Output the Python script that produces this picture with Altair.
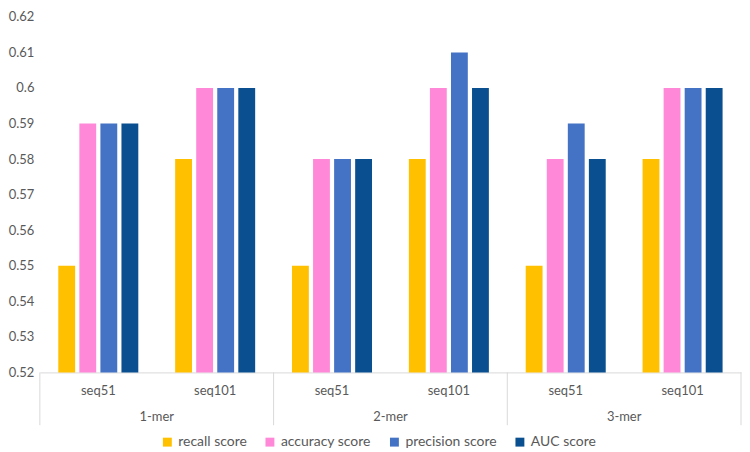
import altair as alt
import pandas as pd

kmers = ["1-mer", "2-mer", "3-mer"]
seqs = ["seq51", "seq101"]
series = ["recall score", "accuracy score", "precision score", "AUC score"]
colors = ["#FFC000", "#FF89D8", "#4472C4", "#0A4F8F"]

# values per series, order: 1-mer seq51, 1-mer seq101, 2-mer seq51, 2-mer seq101, 3-mer seq51, 3-mer seq101
recall = [0.55, 0.58, 0.55, 0.58, 0.55, 0.58]
accuracy = [0.59, 0.60, 0.58, 0.60, 0.58, 0.60]
precision = [0.59, 0.60, 0.58, 0.61, 0.59, 0.60]
auc = [0.59, 0.60, 0.58, 0.60, 0.58, 0.60]

y_ticks = [0.52, 0.53, 0.54, 0.55, 0.56, 0.57, 0.58, 0.59, 0.60, 0.61, 0.62]

cats = [f"{k}|{s}" for k in kmers for s in seqs]
rows = []
for name, vals in zip(series, [recall, accuracy, precision, auc]):
    for c, v in zip(cats, vals):
        rows.append({"cat": c, "series": name, "value": v})
df = pd.DataFrame(rows)

sep_start = pd.DataFrame({"cat": [f"{k}|{seqs[0]}" for k in kmers]})
sep_end = pd.DataFrame({"cat": [f"{kmers[-1]}|{seqs[-1]}"]})
kdf = pd.DataFrame({"cat": [f"{k}|{seqs[0]}" for k in kmers], "kmer": kmers})

W, H = 704, 357
FONT = "Lato"
TXT = "#595959"
LINE = "#D9D9D9"

xscale = alt.Scale(domain=cats, paddingInner=0, paddingOuter=0)

bars = alt.Chart(df).mark_bar(clip=True).encode(
    x=alt.X("cat:N", scale=xscale, title=None,
            axis=alt.Axis(labelExpr="split(datum.label, '|')[1]", labelAngle=0,
                          ticks=False, domainColor=LINE, labelPadding=12,
                          labelColor=TXT, labelFontSize=13, labelFont=FONT)),
    xOffset=alt.XOffset("series:N", sort=series,
                        scale=alt.Scale(paddingInner=0.2, paddingOuter=0.875)),
    y=alt.Y("value:Q", scale=alt.Scale(domain=[0.52, 0.62], zero=False, nice=False),
            title=None,
            axis=alt.Axis(values=y_ticks, format=".2~f", grid=False, domain=False,
                          ticks=False, labelPadding=6, labelColor=TXT,
                          labelFontSize=13, labelFont=FONT)),
    color=alt.Color("series:N", sort=series,
                    scale=alt.Scale(domain=series, range=colors),
                    legend=alt.Legend(orient="none", legendX=121, legendY=H + 63,
                                      direction="horizontal", title=None,
                                      symbolType="square", symbolSize=80,
                                      labelFontSize=14, labelFont=FONT, labelColor=TXT,
                                      columnPadding=16, labelOffset=4,
                                      symbolStrokeWidth=0)),
)

rule1 = alt.Chart(sep_start).mark_rule(color=LINE, strokeWidth=1).encode(
    x=alt.X("cat:N", scale=xscale, bandPosition=0),
    y=alt.value(H), y2=alt.value(H + 53),
)
rule2 = alt.Chart(sep_end).mark_rule(color=LINE, strokeWidth=1).encode(
    x=alt.X("cat:N", scale=xscale, bandPosition=1),
    y=alt.value(H), y2=alt.value(H + 53),
)
ktext = alt.Chart(kdf).mark_text(font=FONT, fontSize=13, color=TXT, baseline="middle").encode(
    x=alt.X("cat:N", scale=xscale, bandPosition=1),
    y=alt.value(H + 45),
    text="kmer:N",
)

chart = alt.layer(bars, rule1, rule2, ktext).properties(
    width=W, height=H, background="white",
    padding={"top": 2, "left": 0, "right": 0, "bottom": 0}
).configure_view(stroke=None)

chart.save("out.html", embed_options={"renderer": "svg", "actions": False})
